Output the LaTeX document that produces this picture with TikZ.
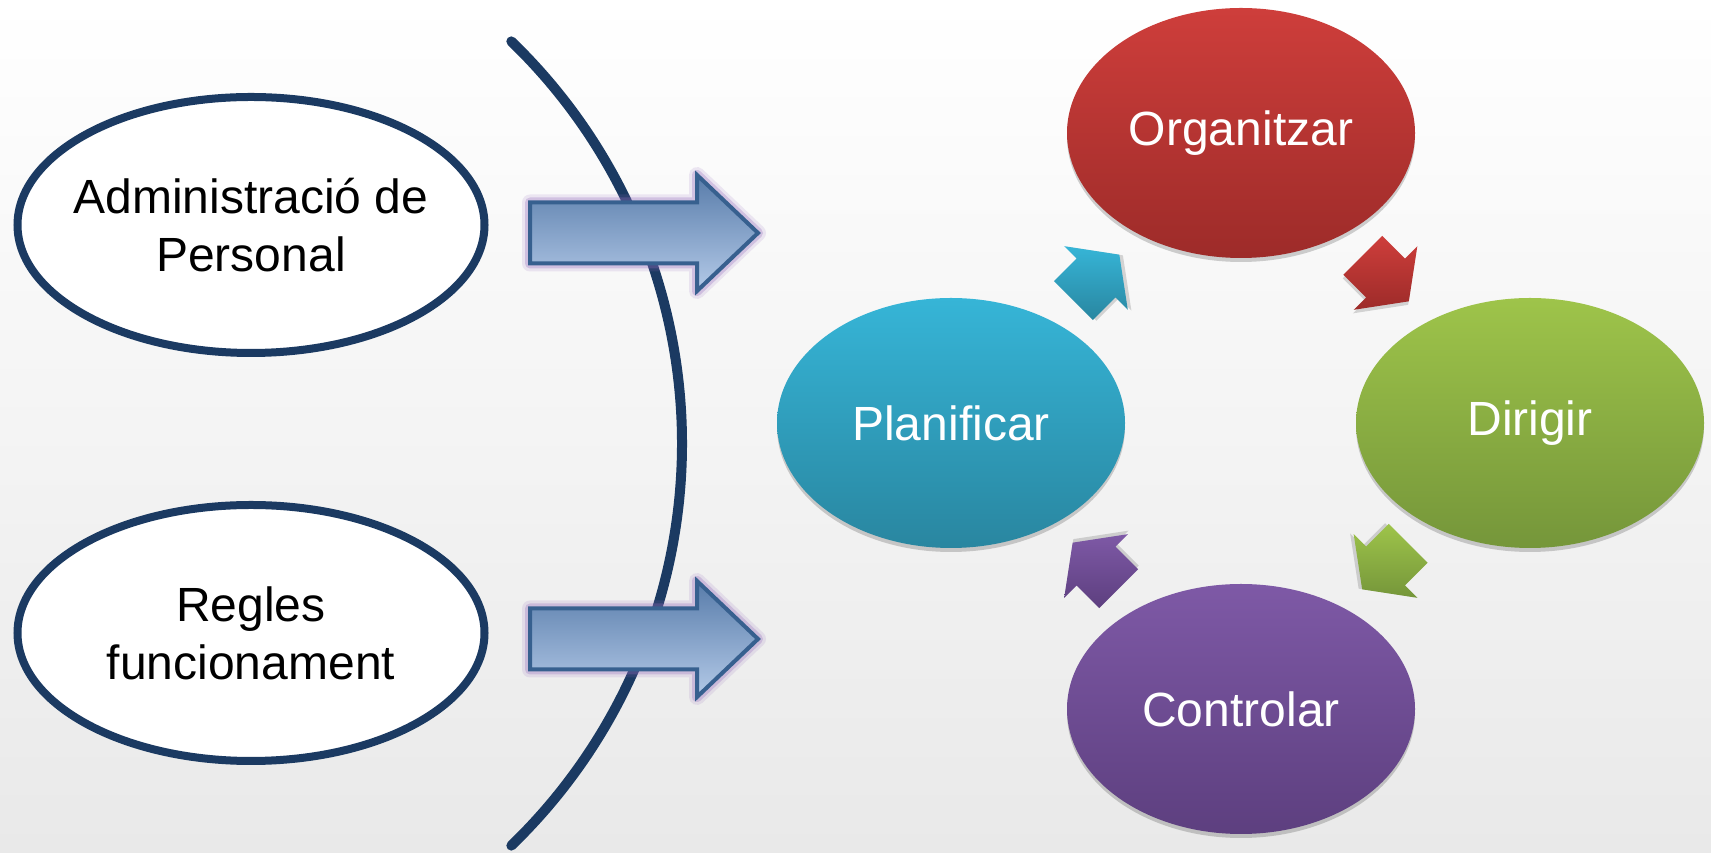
\documentclass[tikz,border=0pt]{standalone}
\usepackage{fontspec}
\setmainfont{Liberation Sans}
\usetikzlibrary{calc,shadows,shapes.geometric}
\definecolor{navy}{RGB}{27,58,98}
\definecolor{arrtop}{RGB}{88,124,170}
\definecolor{arrbot}{RGB}{180,202,232}
\definecolor{arrline}{RGB}{55,96,143}
\definecolor{glow}{RGB}{150,110,190}
\definecolor{redt}{RGB}{206,62,59}
\definecolor{redb}{RGB}{157,43,41}
\definecolor{grnt}{RGB}{158,196,74}
\definecolor{grnb}{RGB}{117,150,58}
\definecolor{blut}{RGB}{54,181,215}
\definecolor{blub}{RGB}{41,134,160}
\definecolor{purt}{RGB}{126,89,166}
\definecolor{purb}{RGB}{93,63,127}
\begin{document}
\begin{tikzpicture}[x=1pt,y=1pt,
  bigfont/.style={font=\fontsize{48}{58}\selectfont},
  leftell/.style={ellipse, draw=navy, line width=8pt, fill=white, minimum width=467pt, minimum height=256pt, inner xsep=-30pt, inner ysep=0pt, align=center, bigfont, text=black},
  cycell/.style={ellipse, minimum width=348pt, minimum height=250pt, inner sep=0pt, text=white, bigfont,
     drop shadow={shadow xshift=0pt, shadow yshift=-4pt, opacity=0.18, fill=black}},
  bigarrow/.style={top color=arrtop, bottom color=arrbot, draw=arrline, line width=4pt, line join=miter},
  glowline/.style={draw=glow, line join=round},
]
% background
\shade[top color=white, middle color=white, bottom color={rgb,255:red,233;green,233;blue,233}] (0,0) rectangle (1711,853);
\useasboundingbox (0,0) rectangle (1711,853);

% left ellipses
\node[leftell] (ap) at (251,628) {Administració de\\Personal};
\node[leftell] (rf) at (251,220) {Regles\\funcionament};

% arc
\draw[navy, line width=10pt, line cap=round] (123,409.5) ++(46:559) arc[start angle=46, end angle=-46, radius=559];

% big arrows
\foreach \cy/\nm in {620/a1,214/a2}{
  \coordinate (\nm) at (644,\cy);
  \begin{scope}[shift={(\nm)}]
    \draw[glowline, line width=16pt, opacity=0.15] (-114,30.5) -- (53,30.5) -- (53,58) -- (114,0) -- (53,-58) -- (53,-30.5) -- (-114,-30.5) -- cycle;
    \draw[glowline, line width=10pt, opacity=0.3] (-114,30.5) -- (53,30.5) -- (53,58) -- (114,0) -- (53,-58) -- (53,-30.5) -- (-114,-30.5) -- cycle;
    \draw[bigarrow] (-114,30.5) -- (53,30.5) -- (53,58) -- (114,0) -- (53,-58) -- (53,-30.5) -- (-114,-30.5) -- cycle;
  \end{scope}
}

% cycle ellipses
\node[cycell, top color=redt, bottom color=redb] (org) at (1241,720) {Organitzar};
\node[cycell, top color=blut, bottom color=blub] (pla) at (951,430) {Planificar};
\node[cycell, top color=grnt, bottom color=grnb] (dir) at (1530,430) {Dirigir};
\node[cycell, top color=purt, bottom color=purb] (con) at (1241,144) {Controlar};

% small cycle arrows
\foreach \a/\b/\ang/\ct/\cb in {pla/org/45/blut/blub, org/dir/-45/redt/redb, dir/con/-135/grnt/grnb, con/pla/135/purt/purb}{
  \coordinate (m-\a) at ($(\a)!0.5!(\b)$);
  \begin{scope}[shift={(m-\a)}, rotate=\ang]
    \fill[black, opacity=0.15, shift={(2,-3)}] (-32,27.5) -- (0,27.5) -- (0,45) -- (33,0) -- (0,-45) -- (0,-27.5) -- (-32,-27.5) -- cycle;
  \end{scope}
  \begin{scope}[shift={(m-\a)}, rotate=\ang]
    \shade[top color=\ct, bottom color=\cb] (-32,27.5) -- (0,27.5) -- (0,45) -- (33,0) -- (0,-45) -- (0,-27.5) -- (-32,-27.5) -- cycle;
  \end{scope}
}
\end{tikzpicture}
\end{document}
